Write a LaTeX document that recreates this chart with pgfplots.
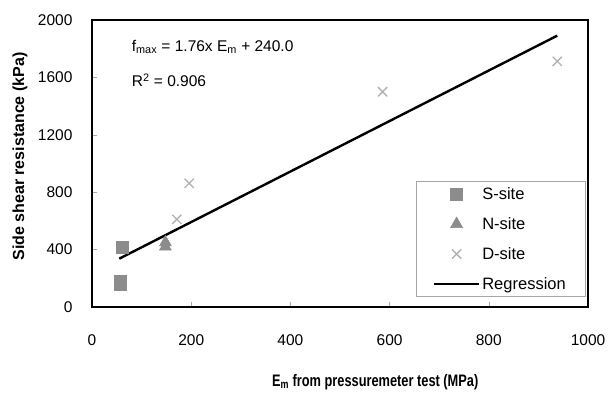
\documentclass[border=0pt]{standalone}
\usepackage{graphicx}
\usepackage{pgfplots}
\pgfplotsset{compat=1.18}
\usepackage{fontspec}
\setmainfont{Liberation Sans}
\definecolor{mgray}{HTML}{8C8C8C}
\definecolor{lgray}{HTML}{B2B2B2}
\pgfplotsset{
  reglegend/.style={legend image code/.code={\draw[##1] (0pt,0pt) -- (45pt,0pt);}},
  marklegend/.style={legend image code/.code={\draw[mark repeat=2,mark phase=2,##1] plot coordinates {(0pt,0pt) (22.5pt,0pt) (45pt,0pt)};}},
}
\begin{document}
\begin{tikzpicture}
\useasboundingbox (-92pt,-87pt) rectangle (518pt,307pt);
\begin{axis}[
  at={(0,0)}, anchor=south west,
  scale only axis, width=496pt, height=287pt,
  xmin=0, xmax=1000, ymin=0, ymax=2000,
  xtick={0,200,400,600,800,1000},
  ytick={0,400,800,1200,1600,2000},
  axis line style={line width=2.5pt, black},
  tick style={gray!70, thin},
  major tick length=5pt,
  tick align=inside,
  xtick pos=bottom, ytick pos=left,
  /pgf/number format/assume math mode=true,
  /pgf/number format/1000 sep={},
  ticklabel style={font=\fontsize{15.5}{17}\selectfont},
  xticklabel style={yshift=-24pt},
  yticklabel style={xshift=-16pt},
  xlabel={\scalebox{1}[1.3]{\bfseries E\textsubscript{m} from pressuremeter test (MPa)}},
  ylabel={\bfseries Side shear resistance (kPa)},
  xlabel style={font=\fontsize{12.8}{15}\selectfont, at={(axis description cs:0.571,-0.261)}, anchor=center},
  ylabel style={font=\fontsize{16}{18}\selectfont, at={(axis description cs:-0.145,0.524)}, anchor=center, rotate=0},
  legend style={at={(0.994,0.035)}, anchor=south east, draw=gray!70, line width=0.5pt,
    font=\fontsize{16.5}{18}\selectfont, row sep=12.5pt, inner xsep=17pt, inner ysep=4pt,
    legend cell align=left},
]
\addplot[only marks, mark=square*, mark size=6pt, color=mgray, mark options={fill=mgray, draw=mgray}, marklegend] coordinates {(60,420) (57,160) (57,181)};
\addlegendentry{S-site}
\addplot[only marks, mark=triangle*, mark size=7pt, color=mgray, mark options={fill=mgray, draw=mgray}, marklegend] coordinates {(148,420) (148,450)};
\addlegendentry{N-site}
\addplot[only marks, mark=x, mark size=6.5pt, color=lgray, line width=1.3pt, marklegend] coordinates {(171,611) (196,862) (586,1500) (938,1712)};
\addlegendentry{D-site}
\addplot[black, line width=2.4pt, reglegend] coordinates {(55,336.8) (938,1890.9)};
\addlegendentry{Regression}
\node[anchor=west, font=\fontsize{15.5}{17}\selectfont, inner sep=0pt] at (axis cs:80,1812) {f\textsubscript{max} = 1.76x E\textsubscript{m} + 240.0};
\node[anchor=west, font=\fontsize{15.5}{17}\selectfont, inner sep=0pt] at (axis cs:80,1582) {R\textsuperscript{2} = 0.906};
\end{axis}
\end{tikzpicture}
\end{document}
